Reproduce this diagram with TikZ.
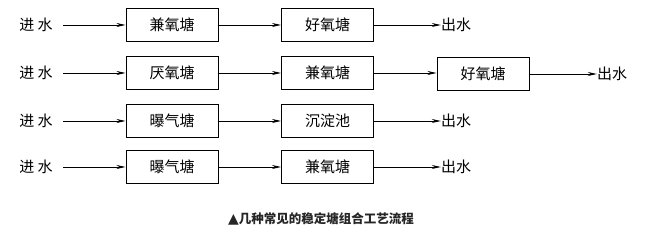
\documentclass[tikz,border=0pt]{standalone}
\usepackage{fontspec}
\setmainfont{Noto Sans CJK SC}
\newfontfamily\symfont{DejaVu Sans}
\usetikzlibrary{arrows.meta}
\begin{document}
\begin{tikzpicture}[x=1pt,y=-1pt,
  pond/.style={draw,line width=1pt,minimum width=92pt,minimum height=33pt,inner sep=0pt,font=\fontsize{15}{18}\selectfont},
  lbl/.style={inner sep=0pt,font=\fontsize{15}{18}\selectfont},
  flow/.style={line width=0.8pt,-{Stealth[length=9pt,width=4pt]}}]
\useasboundingbox (0,0) rectangle (653,237);
% row 1
\node[lbl] (i1) at (36,25) {进 水};
\node[pond] (a1) at (172,25) {兼氧塘};
\node[pond] (b1) at (327.5,25) {好氧塘};
\node[lbl] (o1) at (456,25) {出水};
\coordinate (s1) at (63,25);
\draw[flow] (s1) -- (a1.west);
\draw[flow] (a1) -- (b1);
\draw[flow] (b1.east) -- (o1.west);
% row 2
\node[lbl] (i2) at (36,73) {进 水};
\node[pond] (a2) at (172,73) {厌氧塘};
\node[pond] (b2) at (327.5,73) {兼氧塘};
\node[pond] (c2) at (483,74) {好氧塘};
\node[lbl] (o2) at (612,74) {出水};
\coordinate (s2) at (63,73);
\draw[flow] (s2) -- (a2.west);
\draw[flow] (a2) -- (b2);
\draw[flow] (b2) -- (c2.west |- b2);
\draw[flow] (c2.east) -- (o2.west);
% row 3
\node[lbl] (i3) at (36,121) {进 水};
\node[pond] (a3) at (172,121) {曝气塘};
\node[pond] (b3) at (327.5,121) {沉淀池};
\node[lbl] (o3) at (456,121) {出水};
\coordinate (s3) at (63,121);
\draw[flow] (s3) -- (a3.west);
\draw[flow] (a3) -- (b3);
\draw[flow] (b3.east) -- (o3.west);
% row 4
\node[lbl] (i4) at (36,167) {进 水};
\node[pond] (a4) at (172,167) {曝气塘};
\node[pond] (b4) at (327.5,167) {兼氧塘};
\node[lbl] (o4) at (456,167) {出水};
\coordinate (s4) at (63,167);
\draw[flow] (s4) -- (a4.west);
\draw[flow] (a4) -- (b4);
\draw[flow] (b4.east) -- (o4.west);
% caption
\node[inner sep=0pt,font=\fontsize{12.5}{15}\selectfont\bfseries,text=black!85] (cap) at (321,219) {{\symfont\fontsize{14}{15}\selectfont ▲}几种常见的稳定塘组合工艺流程};
\end{tikzpicture}
\end{document}
